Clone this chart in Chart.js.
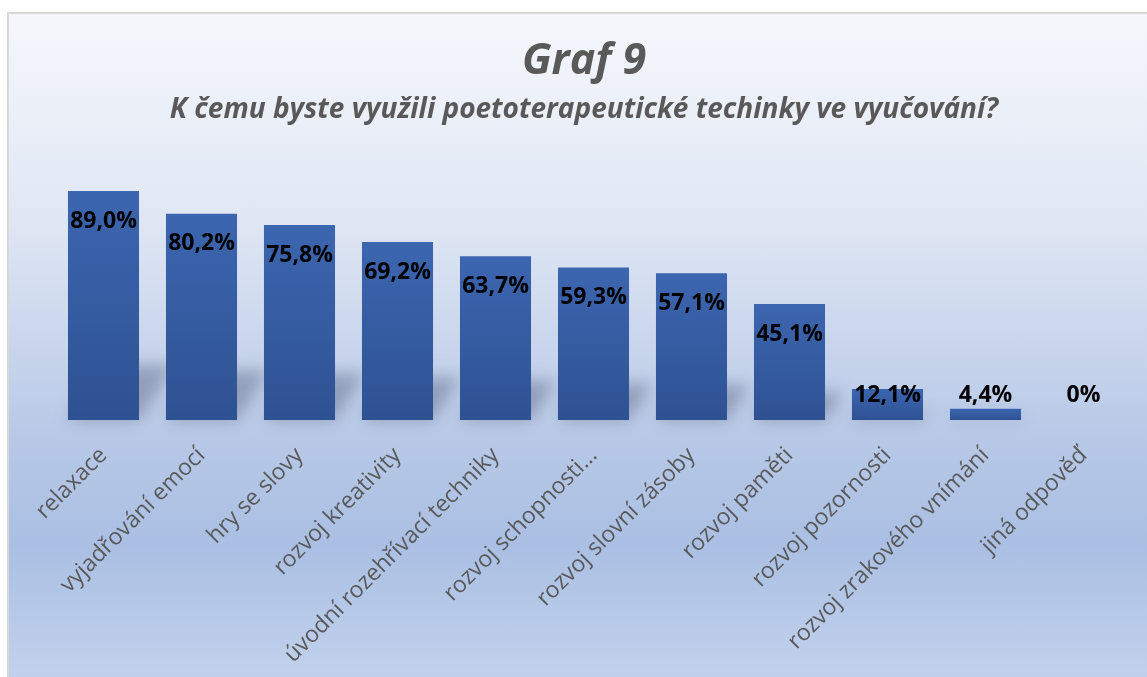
<!DOCTYPE html>
<html>
<head>
<meta charset="utf-8">
<script src="https://cdn.jsdelivr.net/npm/chart.js@4"></script>
<style>
  html, body { margin: 0; padding: 0; background: #fff; }
  #frame {
    position: absolute; left: 7px; top: 12px; width: 1160px; height: 680px;
    border-left: 2px solid #d9d9d9; border-top: 2px solid #d9d9d9;
    background: linear-gradient(to bottom, #f5f7fc 0%, #e0e7f4 30%, #b8c9e7 62%, #aabfe3 78%, #c4d4ed 100%);
  }
  #wrap { position: absolute; left: 0; top: 0; width: 1147px; height: 677px; }
</style>
</head>
<body>
<div id="frame"></div>
<div id="wrap"><canvas id="myChart"></canvas></div>
<script>
var categories = ['relaxace', 'vyjadřování emocí', 'hry se slovy', 'rozvoj kreativity',
  'úvodní rozehřívací techniky', 'rozvoj schopnosti…', 'rozvoj slovní zásoby',
  'rozvoj paměti', 'rozvoj pozornosti', 'rozvoj zrakového vnímání', 'jiná odpověď'];
var values = [89.0, 80.2, 75.8, 69.2, 63.7, 59.3, 57.1, 45.1, 12.1, 4.4, 0];

var FONT = "'Open Sans', sans-serif";
var GREY = '#595959';

function fmt(v) {
  return v === 0 ? '0%' : v.toFixed(1).replace('.', ',') + '%';
}

// gradient per bar, light at the top, darker at the base
function barFill(ctx) {
  var chart = ctx.chart;
  if (!chart.chartArea || ctx.type !== 'data') return '#3a62a9';
  var y = chart.scales.y;
  var top = y.getPixelForValue(ctx.raw), base = y.getPixelForValue(0);
  if (base - top < 1) top = base - 1;
  var g = chart.ctx.createLinearGradient(0, top, 0, base);
  g.addColorStop(0, '#3c66b0');
  g.addColorStop(1, '#2e5192');
  return g;
}

// soft perspective shadow behind the bars
var shadowPlugin = {
  id: 'barShadow',
  beforeDatasetsDraw: function (chart) {
    var c = chart.ctx;
    var meta = chart.getDatasetMeta(0);
    c.save();
    c.filter = 'blur(8px)';
    c.fillStyle = 'rgba(75, 85, 115, 0.4)';
    meta.data.forEach(function (bar) {
      var h = bar.base - bar.y;
      if (h < 2) return;
      var w = bar.width, x0 = bar.x - w / 2, x1 = bar.x + w / 2;
      var k = h * 0.24, s = h * 0.16;
      c.beginPath();
      c.moveTo(x0, bar.base);
      c.lineTo(x1, bar.base);
      c.lineTo(x1 + s, bar.base - k);
      c.lineTo(x0 + s, bar.base - k);
      c.closePath();
      c.fill();
    });
    c.restore();
  }
};

var valueLabels = {
  id: 'valueLabels',
  afterDatasetsDraw: function (chart) {
    var c = chart.ctx;
    var meta = chart.getDatasetMeta(0);
    c.save();
    c.font = 'bold 23px ' + FONT;
    c.fillStyle = '#000';
    c.textAlign = 'center';
    c.textBaseline = 'middle';
    meta.data.forEach(function (bar, i) {
      var y = Math.min(bar.y + 30, bar.base - 25);
      c.fillText(fmt(values[i]), bar.x, y);
    });
    c.restore();
  }
};

var ctx = document.getElementById('myChart').getContext('2d');
var myChart = new Chart(ctx, {
  type: 'bar',
  data: {
    labels: categories,
    datasets: [{
      data: values,
      backgroundColor: barFill,
      borderWidth: 0,
      categoryPercentage: 1,
      barPercentage: 0.725
    }]
  },
  options: {
    responsive: true,
    maintainAspectRatio: false,
    animation: false,
    layout: { padding: { left: 21, right: 0, top: 12, bottom: 0 } },
    plugins: {
      legend: { display: false },
      tooltip: { enabled: false },
      title: {
        display: true,
        text: 'Graf 9',
        color: GREY,
        font: { family: FONT, size: 43, weight: 'bold', style: 'italic' },
        padding: { top: 24, bottom: 5.6 }
      },
      subtitle: {
        display: true,
        text: 'K čemu byste využili poetoterapeutické techinky ve vyučování?',
        color: GREY,
        font: { family: FONT, size: 28, weight: 'bold', style: 'italic' },
        padding: { top: 0, bottom: 36 }
      }
    },
    scales: {
      x: {
        grid: { display: false },
        border: { display: false },
        ticks: {
          color: GREY,
          font: { family: FONT, size: 23 },
          minRotation: 45,
          maxRotation: 45,
          padding: 14
        },
        afterFit: function (scale) { scale.height = 257; }
      },
      y: {
        min: 0,
        max: 100,
        grid: { display: false },
        border: { display: false },
        ticks: { display: false },
        afterFit: function (scale) { scale.width = 33.5; }
      },
      yRight: {
        position: 'right',
        min: 0,
        max: 100,
        grid: { display: false },
        border: { display: false },
        ticks: { display: false },
        afterFit: function (scale) { scale.width = 14.5; }
      }
    }
  },
  plugins: [shadowPlugin, valueLabels]
});
</script>
</body>
</html>
